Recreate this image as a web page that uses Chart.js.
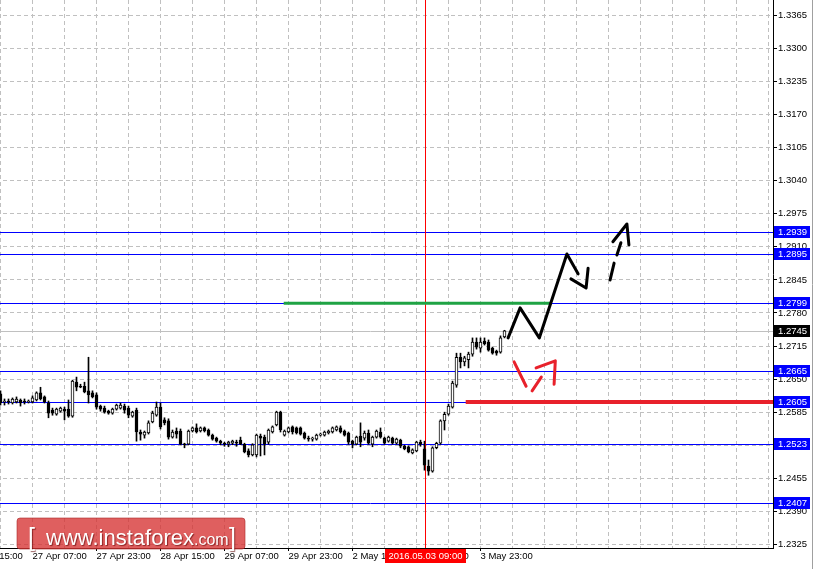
<!DOCTYPE html>
<html>
<head>
<meta charset="utf-8">
<script src="https://cdn.jsdelivr.net/npm/chart.js@4.4.1/dist/chart.umd.min.js"></script>
<style>
  html, body { margin: 0; padding: 0; background: #fff; overflow: hidden; }
  #wrap { position: absolute; left: -32px; top: 0; width: 850px; height: 569px; }
</style>
</head>
<body>
<div id="wrap"><canvas id="chart" width="850" height="569"></canvas></div>
<script>
// H1 bars, bar 0 = 26 Apr 23:00
const opens = [
  1.2621, 1.2605, 1.2607, 1.2603, 1.2605, 1.2609, 1.2607, 1.2605, 1.2605, 1.2609,
  1.2623, 1.2615, 1.2603, 1.2589, 1.2581, 1.2587, 1.2591, 1.2591, 1.2577, 1.2644,
  1.2636, 1.2636, 1.2627, 1.2623, 1.2619, 1.2597, 1.2593, 1.2587, 1.2583, 1.2591,
  1.2593, 1.2597, 1.2593, 1.2577, 1.2589, 1.2546, 1.2540, 1.2544, 1.2566, 1.2579,
  1.2595, 1.2570, 1.2568, 1.2536, 1.2548, 1.2548, 1.2522, 1.2522, 1.2548, 1.2554,
  1.2548, 1.2554, 1.2550, 1.2540, 1.2534, 1.2528, 1.2524, 1.2522, 1.2524, 1.2526,
  1.2530, 1.2522, 1.2509, 1.2501, 1.2501, 1.2538, 1.2536, 1.2526, 1.2546, 1.2560,
  1.2585, 1.2540, 1.2546, 1.2556, 1.2554, 1.2554, 1.2544, 1.2534, 1.2532, 1.2532,
  1.2540, 1.2540, 1.2544, 1.2546, 1.2550, 1.2554, 1.2548, 1.2544, 1.2528, 1.2522,
  1.2538, 1.2534, 1.2544, 1.2522, 1.2536, 1.2546, 1.2534, 1.2528, 1.2534, 1.2524,
  1.2530, 1.2518, 1.2517, 1.2505, 1.2509, 1.2526, 1.2513, 1.2479, 1.2469, 1.2515,
  1.2524, 1.2568, 1.2581, 1.2595, 1.2638, 1.2693, 1.2684, 1.2688, 1.2699, 1.2723,
  1.2711, 1.2725, 1.2723, 1.2711, 1.2705, 1.2703, 1.2733
];
const highs = [
  1.2627, 1.2611, 1.2611, 1.2613, 1.2615, 1.2611, 1.2611, 1.2609, 1.2617, 1.2625,
  1.2634, 1.2617, 1.2607, 1.2593, 1.2593, 1.2595, 1.2595, 1.2609, 1.2648, 1.2654,
  1.2640, 1.2644, 1.2693, 1.2627, 1.2623, 1.2599, 1.2597, 1.2589, 1.2593, 1.2601,
  1.2603, 1.2601, 1.2597, 1.2587, 1.2593, 1.2550, 1.2548, 1.2568, 1.2587, 1.2605,
  1.2603, 1.2574, 1.2572, 1.2550, 1.2554, 1.2552, 1.2524, 1.2550, 1.2556, 1.2562,
  1.2556, 1.2556, 1.2552, 1.2542, 1.2536, 1.2530, 1.2526, 1.2528, 1.2530, 1.2530,
  1.2536, 1.2524, 1.2513, 1.2523, 1.2542, 1.2542, 1.2540, 1.2552, 1.2558, 1.2587,
  1.2587, 1.2550, 1.2556, 1.2558, 1.2556, 1.2556, 1.2546, 1.2538, 1.2536, 1.2542,
  1.2544, 1.2548, 1.2550, 1.2556, 1.2558, 1.2558, 1.2550, 1.2546, 1.2530, 1.2538,
  1.2564, 1.2548, 1.2550, 1.2538, 1.2550, 1.2554, 1.2536, 1.2538, 1.2536, 1.2534,
  1.2532, 1.2520, 1.2519, 1.2513, 1.2528, 1.2530, 1.2528, 1.2491, 1.2517, 1.2526,
  1.2570, 1.2585, 1.2601, 1.2646, 1.2701, 1.2701, 1.2695, 1.2703, 1.2731, 1.2731,
  1.2731, 1.2731, 1.2727, 1.2713, 1.2707, 1.2735, 1.2746
];
const lows = [
  1.2599, 1.2599, 1.2601, 1.2601, 1.2603, 1.2597, 1.2601, 1.2603, 1.2603, 1.2607,
  1.2609, 1.2603, 1.2574, 1.2579, 1.2579, 1.2585, 1.2570, 1.2575, 1.2575, 1.2627,
  1.2633, 1.2623, 1.2603, 1.2613, 1.2591, 1.2587, 1.2583, 1.2581, 1.2581, 1.2589,
  1.2591, 1.2583, 1.2574, 1.2575, 1.2528, 1.2530, 1.2534, 1.2542, 1.2564, 1.2577,
  1.2552, 1.2560, 1.2532, 1.2534, 1.2534, 1.2521, 1.2515, 1.2521, 1.2546, 1.2544,
  1.2546, 1.2546, 1.2538, 1.2530, 1.2526, 1.2521, 1.2518, 1.2517, 1.2521, 1.2518,
  1.2521, 1.2505, 1.2497, 1.2499, 1.2497, 1.2499, 1.2501, 1.2522, 1.2544, 1.2558,
  1.2546, 1.2538, 1.2544, 1.2542, 1.2542, 1.2540, 1.2532, 1.2528, 1.2528, 1.2530,
  1.2538, 1.2538, 1.2542, 1.2544, 1.2548, 1.2544, 1.2538, 1.2522, 1.2515, 1.2521,
  1.2517, 1.2530, 1.2522, 1.2517, 1.2534, 1.2534, 1.2522, 1.2526, 1.2522, 1.2522,
  1.2515, 1.2511, 1.2505, 1.2503, 1.2507, 1.2518, 1.2471, 1.2461, 1.2467, 1.2513,
  1.2522, 1.2550, 1.2579, 1.2593, 1.2634, 1.2672, 1.2676, 1.2672, 1.2695, 1.2709,
  1.2703, 1.2717, 1.2705, 1.2699, 1.2697, 1.2701, 1.2731
];
const closes = [
  1.2603, 1.2607, 1.2605, 1.2611, 1.2611, 1.2603, 1.2605, 1.2607, 1.2613, 1.2623,
  1.2611, 1.2605, 1.2583, 1.2583, 1.2591, 1.2593, 1.2587, 1.2577, 1.2646, 1.2634,
  1.2634, 1.2625, 1.2619, 1.2615, 1.2595, 1.2591, 1.2585, 1.2583, 1.2591, 1.2599,
  1.2599, 1.2589, 1.2579, 1.2585, 1.2546, 1.2542, 1.2546, 1.2564, 1.2583, 1.2595,
  1.2556, 1.2564, 1.2536, 1.2546, 1.2542, 1.2522, 1.2521, 1.2548, 1.2554, 1.2546,
  1.2554, 1.2548, 1.2540, 1.2532, 1.2528, 1.2524, 1.2522, 1.2526, 1.2528, 1.2524,
  1.2522, 1.2507, 1.2501, 1.2521, 1.2540, 1.2534, 1.2522, 1.2550, 1.2556, 1.2585,
  1.2550, 1.2548, 1.2554, 1.2546, 1.2544, 1.2542, 1.2534, 1.2532, 1.2534, 1.2540,
  1.2542, 1.2546, 1.2548, 1.2554, 1.2556, 1.2546, 1.2540, 1.2526, 1.2522, 1.2536,
  1.2526, 1.2544, 1.2524, 1.2536, 1.2548, 1.2536, 1.2524, 1.2536, 1.2524, 1.2532,
  1.2518, 1.2513, 1.2507, 1.2511, 1.2526, 1.2522, 1.2481, 1.2469, 1.2515, 1.2524,
  1.2568, 1.2581, 1.2597, 1.2642, 1.2693, 1.2684, 1.2692, 1.2699, 1.2723, 1.2713,
  1.2723, 1.2719, 1.2707, 1.2701, 1.2701, 1.2731, 1.2745
];

const xTickBars = [-8, 8, 24, 40, 56, 72, 88, 104, 120];
const xTickLabels = ["26 Apr 15:00", "27 Apr 07:00", "27 Apr 23:00", "28 Apr 15:00",
  "29 Apr 07:00", "29 Apr 23:00", "2 May 15:00", "3 May 07:00", "3 May 23:00"];
const yTicks = [1.2325, 1.2390, 1.2455, 1.2520, 1.2585, 1.2650, 1.2715, 1.2780, 1.2845,
  1.2910, 1.2975, 1.3040, 1.3105, 1.3170, 1.3235, 1.3300, 1.3365];

const blueLevels = [1.2939, 1.2895, 1.2799, 1.2665, 1.2605, 1.2523, 1.2407];
const bidPrice = 1.2745;
const markerBar = 106;
const markerLabel = "2016.05.03 09:00";

// hand drawn marks, [bar, price]
const greenLine = [[70.8, 1.2799], [137.7, 1.2799]];
const redLine = [[116.3, 1.2605], [194, 1.2605]];
const blackStrokes = [
  [[126.9, 1.2731], [129.9, 1.2790], [134.7, 1.2731], [141.6, 1.2896], [144.4, 1.2857]],
  [[142.6, 1.2847], [146.4, 1.2829], [146.9, 1.2868]],
  [[152.4, 1.2845], [153.4, 1.2878]],
  [[154.1, 1.2894], [155.1, 1.2918]],
  [[153.1, 1.2920], [156.6, 1.2955], [157.1, 1.2914]],
];
const redStrokes = [
  [[128.4, 1.2684], [131.4, 1.2636]],
  [[132.9, 1.2627], [135.2, 1.2654]],
  [[133.9, 1.2672], [138.7, 1.2686], [138.4, 1.2640]],
];

const xMin = -8.125;
const xMax = 193.125;
const yMin = 1.2318;
const yMax = 1.33953;
const SHIFT = 32; // canvas sits 32px left of the page
const FONT = '"Liberation Sans", Arial, sans-serif';

const pts = (arr) => arr.map(([x, y]) => ({ x, y }));

function strokeSet(arr, color, width) {
  return {
    type: "line",
    data: pts(arr),
    borderColor: color,
    borderWidth: width,
    borderCapStyle: "round",
    borderJoinStyle: "round",
    pointRadius: 0,
    tension: 0,
    order: 0,
  };
}

const datasets = [];
blackStrokes.forEach((s) => datasets.push(strokeSet(s, "#000000", 3)));
redStrokes.forEach((s) => datasets.push(strokeSet(s, "#e8212b", 3)));
datasets.push({ ...strokeSet(greenLine, "#1fa344", 3), borderCapStyle: "butt", order: 1 });
datasets.push({ ...strokeSet(redLine, "#e8212b", 4), borderCapStyle: "butt", order: 1 });
datasets.push({
  type: "bar",
  data: opens.map((o, i) => ({ x: i, y: [Math.min(o, closes[i]), Math.max(o, closes[i])] })),
  backgroundColor: opens.map((o, i) => (closes[i] >= o ? "#ffffff" : "#000000")),
  borderColor: "#000000",
  borderWidth: 1,
  borderSkipped: false,
  barThickness: 3,
  minBarLength: 1,
  grouped: false,
  order: 3,
});
datasets.push({
  type: "bar",
  data: opens.map((o, i) => ({ x: i, y: [lows[i], highs[i]] })),
  backgroundColor: "#000000",
  borderWidth: 0,
  barThickness: 1,
  grouped: false,
  order: 4,
});

function tag(ctx, area, y, color, text) {
  y = Math.round(y);
  ctx.fillStyle = color;
  ctx.fillRect(area.right + 1, y - 6, 36, 12);
  ctx.fillStyle = "#ffffff";
  ctx.textAlign = "left";
  ctx.textBaseline = "middle";
  ctx.fillText(text, area.right + 5, y + 0.5);
}

// level lines, bid line and time marker, drawn crisp under the bars
const levels = {
  id: "levels",
  beforeDatasetsDraw(chart) {
    const { ctx, chartArea: a } = chart;
    const xs = chart.scales.x;
    const ys = chart.scales.y;
    ctx.save();
    ctx.beginPath();
    ctx.rect(a.left, a.top, a.width, a.height);
    ctx.clip();
    ctx.lineWidth = 1;
    const hline = (v, color) => {
      const y = Math.round(ys.getPixelForValue(v)) + 0.5;
      ctx.strokeStyle = color;
      ctx.beginPath();
      ctx.moveTo(a.left, y);
      ctx.lineTo(a.right, y);
      ctx.stroke();
    };
    hline(bidPrice, "#c0c0c0");
    blueLevels.forEach((v) => hline(v, "#0000ff"));
    const x = Math.round(xs.getPixelForValue(markerBar)) + 0.5;
    ctx.strokeStyle = "#ff0000";
    ctx.beginPath();
    ctx.moveTo(x, a.top);
    ctx.lineTo(x, a.bottom);
    ctx.stroke();
    ctx.restore();
  },
};

const overlay = {
  id: "overlay",
  afterDraw(chart) {
    const { ctx, chartArea } = chart;
    const xs = chart.scales.x;
    const ys = chart.scales.y;
    ctx.save();
    ctx.font = "9.5px " + FONT;
    blueLevels.forEach((v) => tag(ctx, chartArea, ys.getPixelForValue(v), "#0000ff", v.toFixed(4)));
    tag(ctx, chartArea, ys.getPixelForValue(bidPrice), "#000000", bidPrice.toFixed(4));

    // time marker box
    const mx = Math.round(xs.getPixelForValue(markerBar)) + 0.5;
    ctx.fillStyle = "#ff0000";
    ctx.fillRect(Math.round(mx - 41), chartArea.bottom + 1, 81, 14);
    ctx.fillStyle = "#ffffff";
    ctx.textAlign = "center";
    ctx.textBaseline = "middle";
    ctx.fillText(markerLabel, mx, chartArea.bottom + 8.5);

    // watermark
    const wx = 17 + SHIFT, wy = 518, ww = 228, wh = 31;
    ctx.beginPath();
    ctx.roundRect(wx, wy, ww, wh, 3);
    ctx.fillStyle = "rgba(214, 50, 50, 0.78)";
    ctx.fill();
    ctx.strokeStyle = "rgba(170, 40, 40, 0.6)";
    ctx.lineWidth = 1;
    ctx.stroke();
    ctx.shadowColor = "rgba(90, 0, 0, 0.6)";
    ctx.shadowOffsetX = 1;
    ctx.shadowOffsetY = 1;
    ctx.shadowBlur = 1;
    ctx.fillStyle = "#ffffff";
    ctx.textAlign = "left";
    ctx.textBaseline = "alphabetic";
    ctx.font = "300 25px " + FONT;
    ctx.fillText("[", 28 + SHIFT, 546);
    ctx.font = "22px " + FONT;
    ctx.fillText("www.instaforex", 46 + SHIFT, 545);
    const w1 = ctx.measureText("www.instaforex").width;
    ctx.font = "16px " + FONT;
    ctx.fillText(".com", 46 + SHIFT + w1, 545);
    ctx.font = "300 25px " + FONT;
    ctx.fillText("]", 229 + SHIFT, 546);
    ctx.restore();

    // edge of the neighbouring window
    ctx.save();
    ctx.strokeStyle = "#a0a0a0";
    ctx.lineWidth = 1;
    ctx.beginPath();
    ctx.moveTo(812.5 + SHIFT, 0);
    ctx.lineTo(812.5 + SHIFT, 569);
    ctx.stroke();
    ctx.restore();
  },
};

function noPad(s) {
  s.paddingLeft = 0;
  s.paddingRight = 0;
  s.paddingTop = 0;
  s.paddingBottom = 0;
}

new Chart(document.getElementById("chart"), {
  type: "bar",
  data: { datasets },
  options: {
    responsive: false,
    animation: false,
    events: [],
    layout: { padding: 0 },
    plugins: { legend: { display: false }, tooltip: { enabled: false } },
    scales: {
      x: {
        type: "linear",
        min: xMin,
        max: xMax,
        offset: false,
        afterBuildTicks: (s) => {
          const t = [];
          for (let v = -8; v <= 192; v += 8) t.push({ value: v });
          s.ticks = t;
        },
        afterFit: (s) => {
          s.height = 21;
          noPad(s);
        },
        grid: {
          offset: false,
          color: "#c0c0c0",
          tickLength: 3,
          tickColor: (c) => (c.tick && xTickBars.includes(c.tick.value) ? "#000000" : "rgba(0,0,0,0)"),
          tickBorderDash: [],
        },
        border: { display: true, color: "#000000", width: 1, dash: [4, 3] },
        ticks: {
          autoSkip: false,
          maxRotation: 0,
          minRotation: 0,
          align: "start",
          padding: 0,
          color: "#000000",
          font: { family: FONT, size: 9.5 },
          callback: (v) => {
            const k = xTickBars.indexOf(v);
            return k >= 0 ? xTickLabels[k] : "";
          },
        },
      },
      y: {
        type: "linear",
        position: "right",
        min: yMin,
        max: yMax,
        afterBuildTicks: (s) => {
          s.ticks = yTicks.map((v) => ({ value: v }));
        },
        afterFit: (s) => {
          s.width = 45;
          noPad(s);
        },
        grid: {
          color: "#c0c0c0",
          tickLength: 4,
          tickColor: "#000000",
          tickBorderDash: [],
        },
        border: { display: true, color: "#000000", width: 1, dash: [4, 3] },
        ticks: {
          padding: 1,
          color: "#000000",
          font: { family: FONT, size: 9.5 },
          callback: (v) => Number(v).toFixed(4),
        },
      },
    },
  },
  plugins: [levels, overlay],
});
</script>
</body>
</html>
